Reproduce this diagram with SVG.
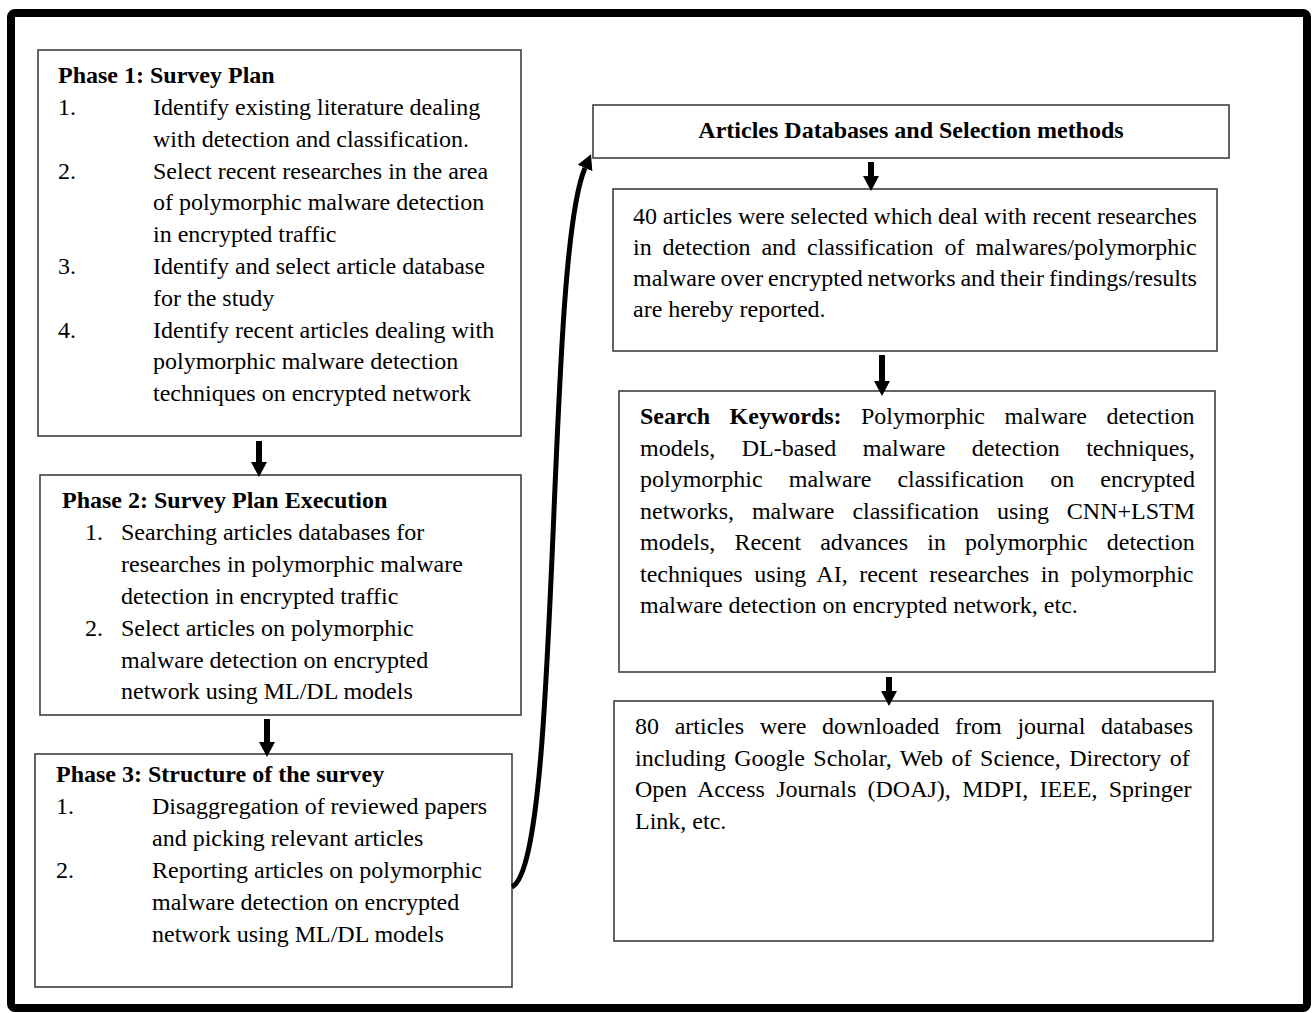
<svg xmlns="http://www.w3.org/2000/svg" width="1316" height="1013" viewBox="0 0 1316 1013">
<style>
  .box { fill: #ffffff; stroke: #404040; stroke-width: 1.6; }
  .frame { fill: none; stroke: #000000; stroke-width: 8; }
  text { font-family: "Liberation Serif", "Times New Roman", serif; font-size: 24px; fill: #000000; }
  .b { font-weight: bold; }
  .arrow { stroke: #000000; stroke-width: 6; fill: none; }
  .curve { stroke: #000000; stroke-width: 5; fill: none; }
</style>
<defs>
  <marker id="ah" viewBox="0 0 15 16" markerWidth="15" markerHeight="16" refX="0" refY="8" orient="auto" markerUnits="userSpaceOnUse">
    <path d="M0,0 L15,8 L0,16 z" fill="#000000"/>
  </marker>
</defs>
<rect class="frame" x="11" y="13" width="1296" height="995" rx="4"/>

<g id="phase1">
  <rect class="box" x="38" y="50" width="483" height="386"/>
  <text class="b" x="58" y="83">Phase 1: Survey Plan</text>
  <text x="58" y="115">1.</text>
  <text x="153" y="115">Identify existing literature dealing</text>
  <text x="153" y="147">with detection and classification.</text>
  <text x="58" y="179">2.</text>
  <text x="153" y="179">Select recent researches in the area</text>
  <text x="153" y="210">of polymorphic malware detection</text>
  <text x="153" y="242">in encrypted traffic</text>
  <text x="58" y="274">3.</text>
  <text x="153" y="274">Identify and select article database</text>
  <text x="153" y="306">for the study</text>
  <text x="58" y="338">4.</text>
  <text x="153" y="338">Identify recent articles dealing with</text>
  <text x="153" y="369">polymorphic malware detection</text>
  <text x="153" y="401">techniques on encrypted network</text>
</g>

<g id="phase2">
  <rect class="box" x="40" y="475" width="481" height="240"/>
  <text class="b" x="62" y="508">Phase 2: Survey Plan Execution</text>
  <text x="85" y="540">1.</text>
  <text x="121" y="540">Searching articles databases for</text>
  <text x="121" y="572">researches in polymorphic malware</text>
  <text x="121" y="604">detection in encrypted traffic</text>
  <text x="85" y="636">2.</text>
  <text x="121" y="636">Select articles on polymorphic</text>
  <text x="121" y="668">malware detection on encrypted</text>
  <text x="121" y="699">network using ML/DL models</text>
</g>

<g id="phase3">
  <rect class="box" x="35" y="754" width="477" height="233"/>
  <text class="b" x="56" y="782">Phase 3: Structure of the survey</text>
  <text x="56" y="814">1.</text>
  <text x="152" y="814">Disaggregation of reviewed papers</text>
  <text x="152" y="846">and picking relevant articles</text>
  <text x="56" y="878">2.</text>
  <text x="152" y="878">Reporting articles on polymorphic</text>
  <text x="152" y="910">malware detection on encrypted</text>
  <text x="152" y="942">network using ML/DL models</text>
</g>

<g id="title">
  <rect class="box" x="593" y="105" width="636" height="53"/>
  <text class="b" x="911" y="138" text-anchor="middle">Articles Databases and Selection methods</text>
</g>

<g id="selected">
  <rect class="box" x="613" y="189" width="604" height="162"/>
  <text x="633" y="224" word-spacing="-0.15">40 articles were selected which deal with recent researches</text>
  <text x="633" y="255" word-spacing="4.9">in detection and classification of malwares/polymorphic</text>
  <text x="633" y="286" word-spacing="-1.1">malware over encrypted networks and their findings/results</text>
  <text x="633" y="317">are hereby reported.</text>
</g>

<g id="keywords">
  <rect class="box" x="619" y="391" width="596" height="281"/>
  <text x="640" y="424" word-spacing="13.4"><tspan class="b">Search Keywords:</tspan> Polymorphic malware detection</text>
  <text x="640" y="456" word-spacing="20.4">models, DL-based malware detection techniques,</text>
  <text x="640" y="487" word-spacing="20.1">polymorphic malware classification on encrypted</text>
  <text x="640" y="519" word-spacing="11.9">networks, malware classification using CNN+LSTM</text>
  <text x="640" y="550" word-spacing="13.1">models, Recent advances in polymorphic detection</text>
  <text x="640" y="582" word-spacing="5.5">techniques using AI, recent researches in polymorphic</text>
  <text x="640" y="613">malware detection on encrypted network, etc.</text>
</g>

<g id="downloaded">
  <rect class="box" x="614" y="701" width="599" height="240"/>
  <text x="635" y="734" word-spacing="9.7">80 articles were downloaded from journal databases</text>
  <text x="635" y="766" word-spacing="2.5">including Google Scholar, Web of Science, Directory of</text>
  <text x="635" y="797" word-spacing="5.3">Open Access Journals (DOAJ), MDPI, IEEE, Springer</text>
  <text x="635" y="829">Link, etc.</text>
</g>

<g id="connectors">
  <line class="arrow" x1="259" y1="441" x2="259" y2="462" marker-end="url(#ah)"/>
  <line class="arrow" x1="267" y1="719" x2="267" y2="742" marker-end="url(#ah)"/>
  <line class="arrow" x1="871" y1="162" x2="871" y2="176" marker-end="url(#ah)"/>
  <line class="arrow" x1="882" y1="355" x2="882" y2="381" marker-end="url(#ah)"/>
  <line class="arrow" x1="889" y1="677" x2="889" y2="691" marker-end="url(#ah)"/>
  <path class="curve" d="M512,887 C562,862 545,260 585,168" marker-end="url(#ah)"/>
</g>
</svg>
